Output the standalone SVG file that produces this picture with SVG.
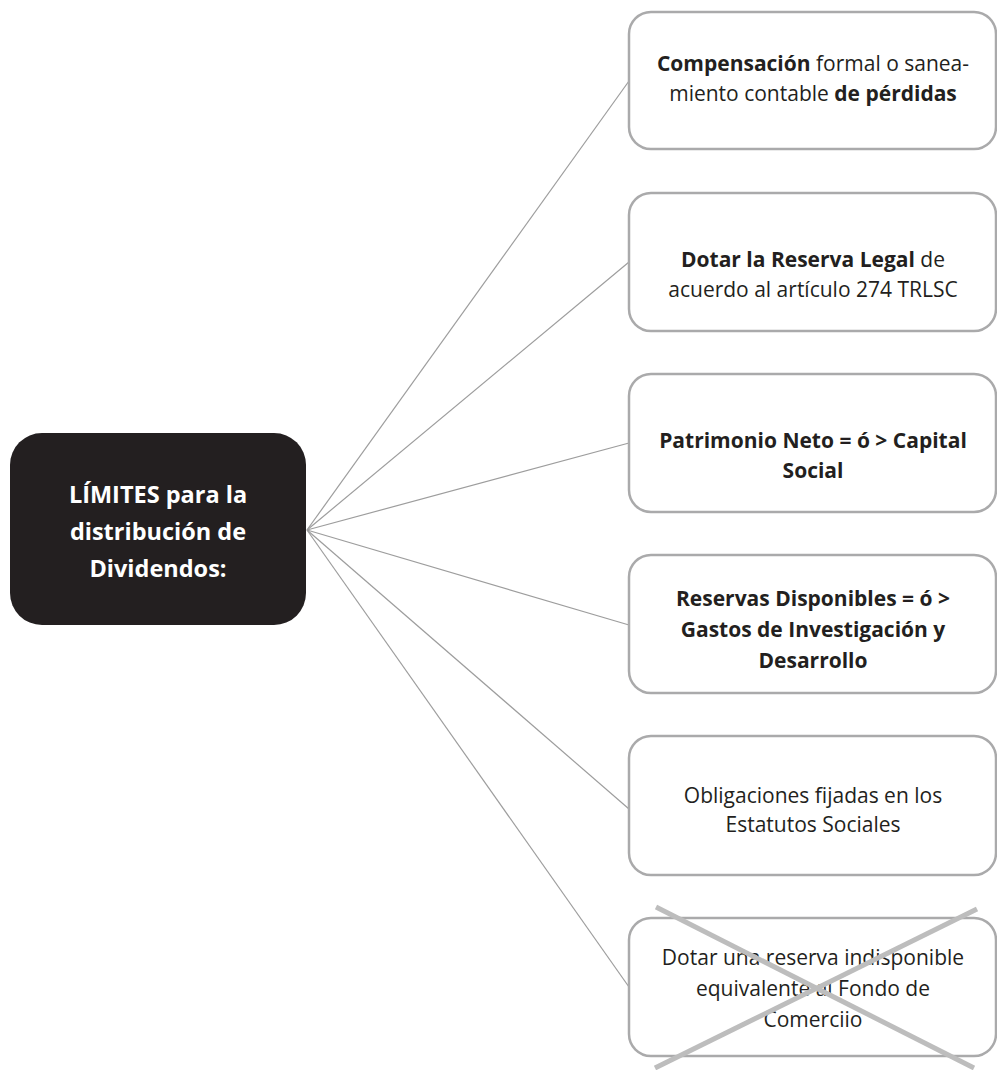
<svg xmlns="http://www.w3.org/2000/svg" width="997" height="1070" viewBox="0 0 997 1070">
<style>
.box{fill:#fff;stroke:#aaaaab;stroke-width:2.5}
.t{font-family:"Open Sans","Noto Sans",sans-serif;font-size:21px;fill:#231f20;text-anchor:middle}
.b{font-weight:bold}
.c{font-family:"Open Sans","Noto Sans",sans-serif;font-size:23.5px;font-weight:bold;fill:#fff;text-anchor:middle}
.con{stroke:#9d9d9d;stroke-width:1.2;fill:none}
.x{stroke:#bdbdbd;stroke-width:5;fill:none}
</style>
<rect width="997" height="1070" fill="#fff"/>
<g id="connectors">
<line class="con" x1="307" y1="530" x2="629" y2="81"/>
<line class="con" x1="307" y1="530" x2="629" y2="262"/>
<line class="con" x1="307" y1="530" x2="629" y2="443"/>
<line class="con" x1="307" y1="530" x2="629" y2="625"/>
<line class="con" x1="307" y1="530" x2="629" y2="809"/>
<line class="con" x1="307" y1="530" x2="629" y2="987"/>
</g>
<g id="center">
<rect x="10" y="433" width="296" height="192" rx="32" fill="#231f20"/>
<text class="c" x="158" y="503">LÍMITES para la</text>
<text class="c" x="158" y="540">distribución de</text>
<text class="c" x="158" y="577">Dividendos:</text>
</g>
<g id="n1">
<rect class="box" x="629" y="12" width="367" height="137" rx="22"/>
<text class="t" x="813" y="71"><tspan class="b">Compensación</tspan> formal o sanea-</text>
<text class="t" x="813" y="101">miento contable <tspan class="b">de pérdidas</tspan></text>
</g>
<g id="n2">
<rect class="box" x="629" y="193" width="367" height="138" rx="22"/>
<text class="t" x="813" y="267"><tspan class="b">Dotar la Reserva Legal</tspan> de</text>
<text class="t" x="813" y="297">acuerdo al artículo 274 TRLSC</text>
</g>
<g id="n3">
<rect class="box" x="629" y="374" width="367" height="138" rx="22"/>
<text class="t b" x="813" y="448">Patrimonio Neto = ó &gt; Capital</text>
<text class="t b" x="813" y="478">Social</text>
</g>
<g id="n4">
<rect class="box" x="629" y="555" width="367" height="138" rx="22"/>
<text class="t b" x="813" y="606">Reservas Disponibles = ó &gt;</text>
<text class="t b" x="813" y="637">Gastos de Investigación y</text>
<text class="t b" x="813" y="668">Desarrollo</text>
</g>
<g id="n5">
<rect class="box" x="629" y="736" width="367" height="139" rx="22"/>
<text class="t" x="813" y="803">Obligaciones fijadas en los</text>
<text class="t" x="813" y="832">Estatutos Sociales</text>
</g>
<g id="n6">
<rect class="box" x="629" y="918" width="367" height="138" rx="22"/>
<text class="t" x="813" y="965">Dotar una reserva indisponible</text>
<text class="t" x="813" y="996">equivalente al Fondo de</text>
<text class="t" x="813" y="1027">Comerciio</text>
<line class="x" x1="656" y1="907" x2="974" y2="1068"/>
<line class="x" x1="977" y1="909" x2="655" y2="1068"/>
</g>
</svg>
